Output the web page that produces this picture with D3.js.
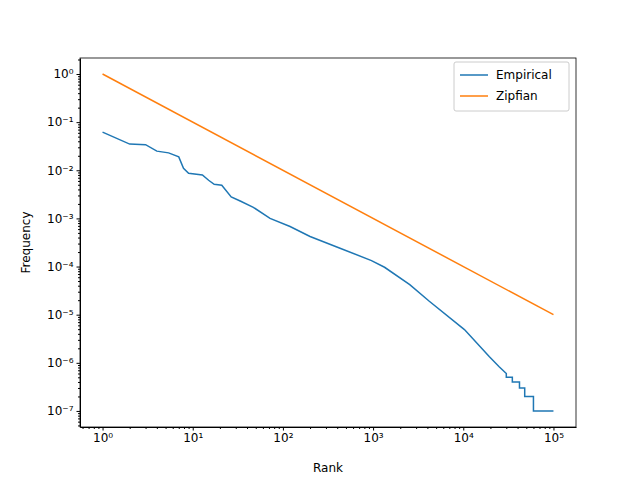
<!DOCTYPE html>
<html><head><meta charset="utf-8">
<script src="https://cdn.jsdelivr.net/npm/d3@7"></script>
<style>body{margin:0;background:#fff}text{font-family:"DejaVu Sans",sans-serif}</style>
</head><body><div id="chart"></div>
<script>
// rank / frequency
const empRank = [1, 2, 3, 4, 5.4, 7, 7.9, 9, 12.8, 15, 17.3, 21, 26.7, 33.6, 47, 72, 120, 200, 430, 960, 1340, 2550, 4200, 10300, 19500, 25000,
  30000, 30000, 35000, 35000, 42000, 42000, 48000, 48000, 60000, 60000, 100000];
const empFreq = [0.062, 0.035, 0.034, 0.025, 0.023, 0.019, 0.011, 0.0087, 0.008, 0.0062, 0.0051, 0.0049, 0.0028, 0.0023, 0.0017, 0.001, 0.00068, 0.00042, 0.00024, 0.000133, 0.0000966, 4.2e-5, 1.9e-5, 4.9e-6, 1.33e-6, 8.3e-7,
  6e-7, 5e-7, 5e-7, 4e-7, 4e-7, 3e-7, 3e-7, 2e-7, 2e-7, 1e-7, 1e-7];
const zipfRank = [1, 100000];
const zipfFreq = [1, 1e-5];
const xTickExp = [0, 1, 2, 3, 4, 5];
const yTickExp = [0, -1, -2, -3, -4, -5, -6, -7];
const seriesNames = ["Empirical", "Zipfian"];
const colors = ["#1f77b4", "#ff7f0e"];

const W = 640, H = 480, m = {left: 80, right: 64, top: 58, bottom: 53};
const svg = d3.select("#chart").append("svg").attr("width", W).attr("height", H);

const x = d3.scaleLog().domain([0.5623, 177828]).range([m.left, W - m.right]);
const y = d3.scaleLog().domain([4.64e-8, 2.15]).range([H - m.bottom, m.top]);

const sup = {"-": "\u207b", "0": "\u2070", "1": "\u00b9", "2": "\u00b2", "3": "\u00b3", "4": "\u2074", "5": "\u2075", "6": "\u2076", "7": "\u2077"};
const fmt = e => "10" + String(e).split("").map(c => sup[c]).join("");

function minors(lo, hi) {
  const out = [];
  for (let e = lo; e <= hi; e++) for (let k = 2; k < 10; k++) out.push(k * Math.pow(10, e));
  return out;
}

const xAxis = svg.append("g").attr("transform", `translate(0,${H - m.bottom})`);
xAxis.call(d3.axisBottom(x).tickValues(xTickExp.map(e => Math.pow(10, e))).tickFormat((d, i) => fmt(xTickExp[i])).tickSize(3.5).tickSizeOuter(0));
xAxis.append("g").call(d3.axisBottom(x).tickValues(minors(-1, 5).filter(v => v > 0.5623 && v < 177828)).tickFormat("").tickSize(2).tickSizeOuter(0)).select(".domain").remove();

const yAxis = svg.append("g").attr("transform", `translate(${m.left},0)`);
yAxis.call(d3.axisLeft(y).tickValues(yTickExp.map(e => Math.pow(10, e))).tickFormat((d, i) => fmt(yTickExp[i])).tickSize(3.5).tickSizeOuter(0));
yAxis.append("g").call(d3.axisLeft(y).tickValues(minors(-8, 0).filter(v => v > 4.64e-8 && v < 2.15)).tickFormat("").tickSize(2).tickSizeOuter(0)).select(".domain").remove();

svg.selectAll(".tick text").attr("font-size", 12).attr("fill", "#000");
svg.selectAll(".tick line").attr("stroke", "#000");

svg.append("rect").attr("x", m.left).attr("y", m.top).attr("width", W - m.left - m.right).attr("height", H - m.top - m.bottom)
  .attr("fill", "none").attr("stroke", "#000").attr("stroke-width", 0.8);

const line = d3.line().x(d => x(d[0])).y(d => y(d[1]));
const series = [d3.zip(empRank, empFreq), d3.zip(zipfRank, zipfFreq)];
series.forEach((s, i) => {
  svg.append("path").attr("d", line(s)).attr("fill", "none").attr("stroke", colors[i]).attr("stroke-width", 1.5);
});

svg.append("text").attr("x", (m.left + W - m.right) / 2).attr("y", 472).attr("text-anchor", "middle").attr("font-size", 12).text("Rank");
svg.append("text").attr("transform", `translate(30,${(m.top + H - m.bottom) / 2}) rotate(-90)`).attr("text-anchor", "middle").attr("font-size", 12).text("Frequency");

const lg = svg.append("g").attr("transform", "translate(454,62)");
lg.append("rect").attr("width", 115).attr("height", 49).attr("rx", 2).attr("fill", "#fff").attr("stroke", "#ccc");
seriesNames.forEach((n, i) => {
  const yy = 13 + i * 21;
  lg.append("line").attr("x1", 6).attr("x2", 34).attr("y1", yy).attr("y2", yy).attr("stroke", colors[i]).attr("stroke-width", 1.5);
  lg.append("text").attr("x", 42).attr("y", yy + 4).attr("font-size", 12).text(n);
});
</script></body></html>
